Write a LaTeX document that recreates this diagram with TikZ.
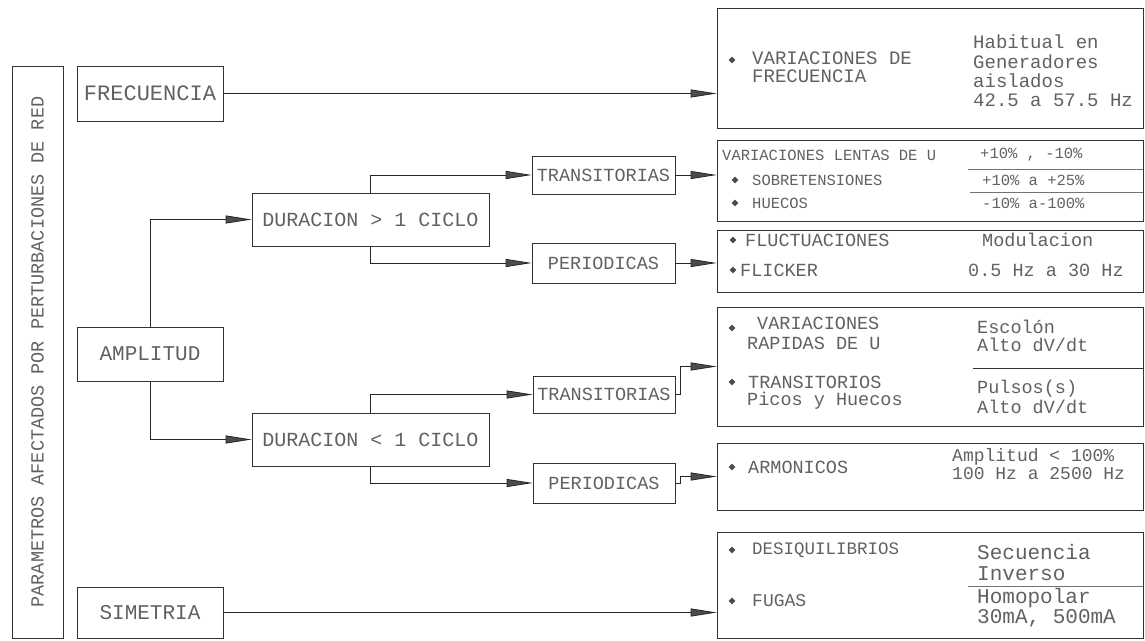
\documentclass[tikz,border=0pt]{standalone}
\usepackage{fontspec}
\setmainfont{Liberation Mono}
\usetikzlibrary{arrows.meta,shapes.geometric}
\newcommand\fsz[2]{\fontsize{#1}{#2}\selectfont}
\tikzset{
  box/.style={draw=black!80, line width=0.7pt, inner sep=0pt, text=black!62},
  arr/.style={draw=black!85, line width=0.8pt, -{Triangle[length=26pt,width=8pt,fill=black!70]}},
  txt/.style={text=black!62, inner sep=0pt, anchor=west, align=left},
  bul/.style={diamond, fill=black!70, inner sep=0pt, minimum size=7pt},
  sepline/.style={draw=black!55, line width=0.6pt},
}
\begin{document}
\begin{tikzpicture}[x=1pt,y=-1pt]
\useasboundingbox (0,0) rectangle (1145,640);
% left column
\node[box, rotate=90, minimum width=572pt, minimum height=51pt, font=\fsz{18.5}{20}] (left) at (37.5,352) {PARAMETROS AFECTADOS POR PERTURBACIONES DE RED};
\node[box, minimum width=146pt, minimum height=55pt, font=\fsz{22}{24}] (frec) at (150,93.5) {FRECUENCIA};
\node[box, minimum width=146pt, minimum height=54pt, font=\fsz{21}{23}] (ampl) at (150,354) {AMPLITUD};
\node[box, minimum width=146pt, minimum height=51pt, font=\fsz{21}{23}] (sim) at (150,612.5) {SIMETRIA};
% duration boxes
\node[box, minimum width=237pt, minimum height=53pt, font=\fsz{20}{22}] (dur1) at (370.5,219.5) {DURACION > 1 CICLO};
\node[box, minimum width=237pt, minimum height=53pt, font=\fsz{20}{22}] (dur2) at (370.5,439.5) {DURACION < 1 CICLO};
% type boxes
\node[box, minimum width=143pt, minimum height=38pt, font=\fsz{18.5}{20}] (tr1) at (603.5,175) {TRANSITORIAS};
\node[box, minimum width=143pt, minimum height=40pt, font=\fsz{18.5}{20}] (pe1) at (603.5,263) {PERIODICAS};
\node[box, minimum width=142pt, minimum height=37pt, font=\fsz{18.5}{20}] (tr2) at (604,394.5) {TRANSITORIAS};
\node[box, minimum width=142pt, minimum height=40pt, font=\fsz{18.5}{20}] (pe2) at (604,483) {PERIODICAS};
% result boxes
\node[box, minimum width=426pt, minimum height=120pt] (b1) at (930,68) {};
\node[box, minimum width=426pt, minimum height=81pt] (b2) at (930,180.5) {};
\node[box, minimum width=426pt, minimum height=62pt] (b3) at (930,261) {};
\node[box, minimum width=426pt, minimum height=119pt] (b4) at (930,366.5) {};
\node[box, minimum width=426pt, minimum height=67pt] (b5) at (930,476.5) {};
\node[box, minimum width=426pt, minimum height=106pt] (b6) at (930,585) {};
% connectors
\draw[arr] (frec.east) -- (frec.east -| b1.west);
\draw[arr] (ampl.north) |- (dur1.west);
\draw[arr] (ampl.south) |- (dur2.west);
\draw[arr] (dur1.north) |- (tr1.west);
\draw[arr] (dur1.south) |- (pe1.west);
\draw[arr] (dur2.north) |- (tr2.west);
\draw[arr] (dur2.south) |- (pe2.west);
\draw[arr] (tr1.east) -- (tr1.east -| b2.west);
\draw[arr] (pe1.east) -- (pe1.east -| b3.west);
\draw[arr] (tr2.east) -- ++(5,0) |- (b4.west);
\draw[arr] (pe2.east) -- ++(5,0) |- (b5.west);
\draw[arr] (sim.east) -- (sim.east -| b6.west);
% box 1 content
\node[bul] (u1) at (732,60) {};
\node[txt, font=\fsz{19}{17.5}] (t1a) at (752,67) {VARIACIONES DE\\FRECUENCIA};
\node[txt, font=\fsz{19}{19.3}] (t1b) at (973,71) {Habitual en\\Generadores\\aislados\\42.5 a 57.5 Hz};
% box 2 content
\node[txt, font=\fsz{15.5}{17}] (t2a) at (722,155) {VARIACIONES LENTAS DE U};
\node[txt, font=\fsz{15.5}{17}] (t2b) at (980,155) {+10\% , -10\%};
\node[bul] (u2) at (735,180) {};
\node[txt, font=\fsz{15.5}{17}] (t2c) at (752,180) {SOBRETENSIONES};
\node[txt, font=\fsz{15.5}{17}] (t2d) at (982,180) {+10\% a +25\%};
\node[bul] (u3) at (735,203) {};
\node[txt, font=\fsz{15.5}{17}] (t2e) at (752,203) {HUECOS};
\node[txt, font=\fsz{15.5}{17}] (t2f) at (982,203) {-10\% a-100\%};
\draw[sepline] (968,169) -- (b2.east |- 0,169);
\draw[sepline] (970,192) -- (b2.east |- 0,192);
% box 3 content
\node[bul] (u4) at (733,240) {};
\node[txt, font=\fsz{18.5}{20}] (t3a) at (745,240) {FLUCTUACIONES};
\node[txt, font=\fsz{18.5}{20}] (t3b) at (982,240) {Modulacion};
\node[bul] (u5) at (733,270) {};
\node[txt, font=\fsz{18.5}{20}] (t3c) at (740,270) {FLICKER};
\node[txt, font=\fsz{18.5}{20}] (t3d) at (968,270) {0.5 Hz a 30 Hz};
% box 4 content
\node[bul] (u6) at (732,328) {};
\node[txt, font=\fsz{18.5}{20}] (t4a) at (757,323) {VARIACIONES};
\node[txt, font=\fsz{18.5}{20}] (t4b) at (747,343) {RAPIDAS DE U};
\node[txt, font=\fsz{18.5}{18.5}] (t4c) at (977,336) {Escolón\\Alto dV/dt};
\draw[black!80, line width=0.7pt] (973,368) -- (b4.east |- 0,368);
\node[bul] (u7) at (732,382) {};
\node[txt, font=\fsz{18.5}{20}] (t4d) at (748,382) {TRANSITORIOS};
\node[txt, font=\fsz{18.5}{20}] (t4e) at (747,401) {Picos y Huecos};
\node[txt, font=\fsz{18.5}{20}] (t4f) at (977,397) {Pulsos(s)\\Alto dV/dt};
% box 5 content
\node[bul] (u8) at (732,467) {};
\node[txt, font=\fsz{18.5}{20}] (t5a) at (748,467) {ARMONICOS};
\node[txt, font=\fsz{18}{18}] (t5b) at (952,464) {Amplitud < 100\%\\100 Hz a 2500 Hz};
% box 6 content
\node[bul] (u9) at (732,550) {};
\node[txt, font=\fsz{17.5}{20}] (t6a) at (752,550) {DESIQUILIBRIOS};
\node[txt, font=\fsz{21}{21}] (t6b) at (977,562) {Secuencia\\Inverso};
\draw[sepline] (968,586) -- (b6.east |- 0,586);
\node[bul] (u10) at (732,601) {};
\node[txt, font=\fsz{18}{20}] (t6c) at (752,601) {FUGAS};
\node[txt, font=\fsz{21}{20}] (t6d) at (977,608) {Homopolar\\30mA, 500mA};
\end{tikzpicture}
\end{document}
